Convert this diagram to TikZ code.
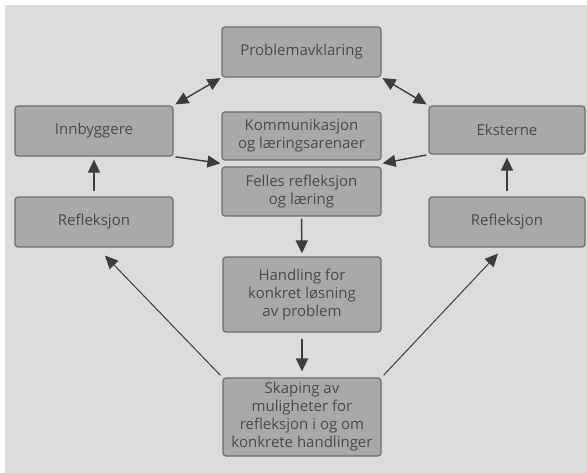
\documentclass[tikz,border=0pt]{standalone}
\usepackage{fontspec}
\setmainfont{Open Sans}
\usetikzlibrary{arrows.meta,calc}
\definecolor{pagebg}{HTML}{DCDCDC}
\definecolor{boxfill}{HTML}{A9A9A9}
\definecolor{boxline}{HTML}{6E6E6E}
\definecolor{inkc}{HTML}{3C3C3C}
\definecolor{textc}{HTML}{4A4A4A}
\tikzset{
  box/.style={draw=boxline, line width=1.2pt, fill=boxfill, rounded corners=3pt,
    text=textc, font=\fontsize{15}{18}\selectfont, align=center, inner sep=1pt},
  conn/.style={draw=inkc, line width=1.4pt, -{Triangle[length=13pt,width=12pt]}},
  dconn/.style={draw=inkc, line width=1.4pt, {Triangle[length=13pt,width=12pt]}-{Triangle[length=13pt,width=12pt]}},
  lconn/.style={draw=inkc, line width=1pt, -{Triangle[length=13pt,width=12pt]}}
}
\begin{document}
\begin{tikzpicture}[x=1pt,y=-1pt]
\useasboundingbox (0,0) rectangle (587,473);
\fill[white] (0,0) rectangle (587,473);
\fill[pagebg] (5,5) rectangle (587,473);

\node[box, minimum width=159pt, minimum height=50pt] (prob) at (301.5,52) {Problemavklaring};
\node[box, minimum width=159pt, minimum height=48pt] (komm) at (301.5,136) {Kommunikasjon\\og læringsarenaer};
\node[box, minimum width=159pt, minimum height=49pt] (felles) at (301.5,191.5) {Felles refleksjon\\og læring};
\node[box, minimum width=158pt, minimum height=75pt] (hand) at (302,294.5) {Handling for\\konkret løsning\\av problem};
\node[box, minimum width=158pt, minimum height=78pt] (skap) at (302,417) {Skaping av\\muligheter for\\refleksjon i og om\\konkrete handlinger};
\node[box, minimum width=158pt, minimum height=50pt] (innb) at (94,131) {Innbyggere};
\node[box, minimum width=158pt, minimum height=50pt] (reflL) at (94,222) {Refleksjon};
\node[box, minimum width=156pt, minimum height=48pt] (ekst) at (507,130) {Eksterne};
\node[box, minimum width=156pt, minimum height=50pt] (reflR) at (507,222) {Refleksjon};

\coordinate (jl) at ($(komm.south west)!0.5!(felles.north west)$);
\coordinate (jr) at ($(komm.south east)!0.5!(felles.north east)$);
\coordinate (tipL) at ($(reflL.south)+(11,8)$);
\coordinate (tipR) at ($(reflR.south)+(-9,6)$);

\draw[dconn, shorten <=1pt, shorten >=2pt] (prob.south west) -- (innb.north east);
\draw[dconn, shorten <=1pt, shorten >=2pt] (prob.south east) -- (ekst.north west);
\draw[conn, shorten <=2pt, shorten >=1pt] (innb.south east) -- (jl);
\draw[conn, shorten <=2pt, shorten >=1pt] (ekst.south west) -- (jr);
\draw[conn, shorten <=5pt, shorten >=3pt] (reflL.north) -- (innb.south);
\draw[conn, shorten <=5pt, shorten >=3pt] (reflR.north) -- (ekst.south);
\draw[conn, shorten <=2pt, shorten >=3pt] (felles.south) -- (hand.north);
\draw[conn, shorten <=6pt, shorten >=6pt] (hand.south) -- (skap.north);
\draw[lconn, shorten <=3pt] (skap.north west) -- (tipL);
\draw[lconn, shorten <=3pt] (skap.north east) -- (tipR);
\end{tikzpicture}
\end{document}
